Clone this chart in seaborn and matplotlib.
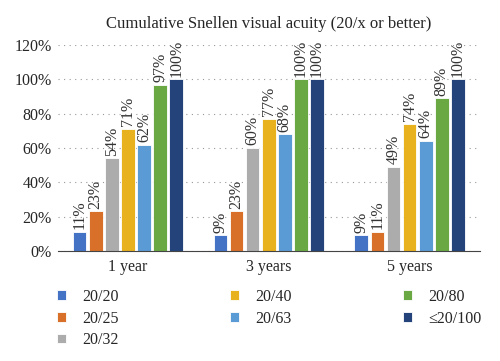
import pandas as pd
import matplotlib.pyplot as plt
import seaborn as sns

periods = ["1 year", "3 years", "5 years"]
acuity = ["20/20", "20/25", "20/32", "20/40", "20/63", "20/80", "\u226420/100"]
vals_1y = [11, 23, 54, 71, 62, 97, 100]
vals_3y = [9, 23, 60, 77, 68, 100, 100]
vals_5y = [9, 11, 49, 74, 64, 89, 100]
colors = ["#4472C4", "#D8702A", "#ACACAC", "#E8B21E", "#5B9BD5", "#6AA843", "#23437A"]

rows = []
for p, vals in zip(periods, [vals_1y, vals_3y, vals_5y]):
    for a, v in zip(acuity, vals):
        rows.append({"period": p, "acuity": a, "value": v})
df = pd.DataFrame(rows)

sns.set_style("white")
plt.rcParams['font.family'] = ['Liberation Serif', 'DejaVu Serif']

fig, ax = plt.subplots(figsize=(5, 3.61), dpi=100)
sns.barplot(data=df, x="period", y="value", hue="acuity", palette=colors,
            saturation=1, width=0.8, gap=0.15, edgecolor="white", linewidth=0.6, ax=ax)

for cont in ax.containers:
    ax.bar_label(cont, labels=[f"{int(v)}%" for v in cont.datavalues],
                 rotation=90, padding=2, fontsize=11.5, color="#333333")

ax.set_ylim(0, 120)
ax.set_yticks(range(0, 121, 20))
ax.set_yticklabels([f"{t}%" for t in range(0, 121, 20)], fontsize=11.5)
ax.tick_params(axis='x', labelsize=11.5, length=0, pad=6)
ax.tick_params(axis='y', length=0, pad=4)
ax.yaxis.grid(True, linestyle=(0, (1, 4)), color="#999999", linewidth=0.8)
ax.set_axisbelow(True)
for s in ["top", "right", "left"]:
    ax.spines[s].set_visible(False)
ax.spines["bottom"].set_color("#444444")
ax.set_xlabel("")
ax.set_ylabel("")
ax.set_title("Cumulative Snellen visual acuity (20/x or better)", fontsize=12, pad=12)

ax.legend(ncol=3, loc="upper left", bbox_to_anchor=(-0.035, -0.115), frameon=False,
          fontsize=11.5, handlelength=0.55, handleheight=0.55, columnspacing=7.0,
          labelspacing=0.35, handletextpad=1.0)

fig.subplots_adjust(left=0.115, right=0.96, top=0.875, bottom=0.305)
fig.savefig("out.png", dpi=100)
